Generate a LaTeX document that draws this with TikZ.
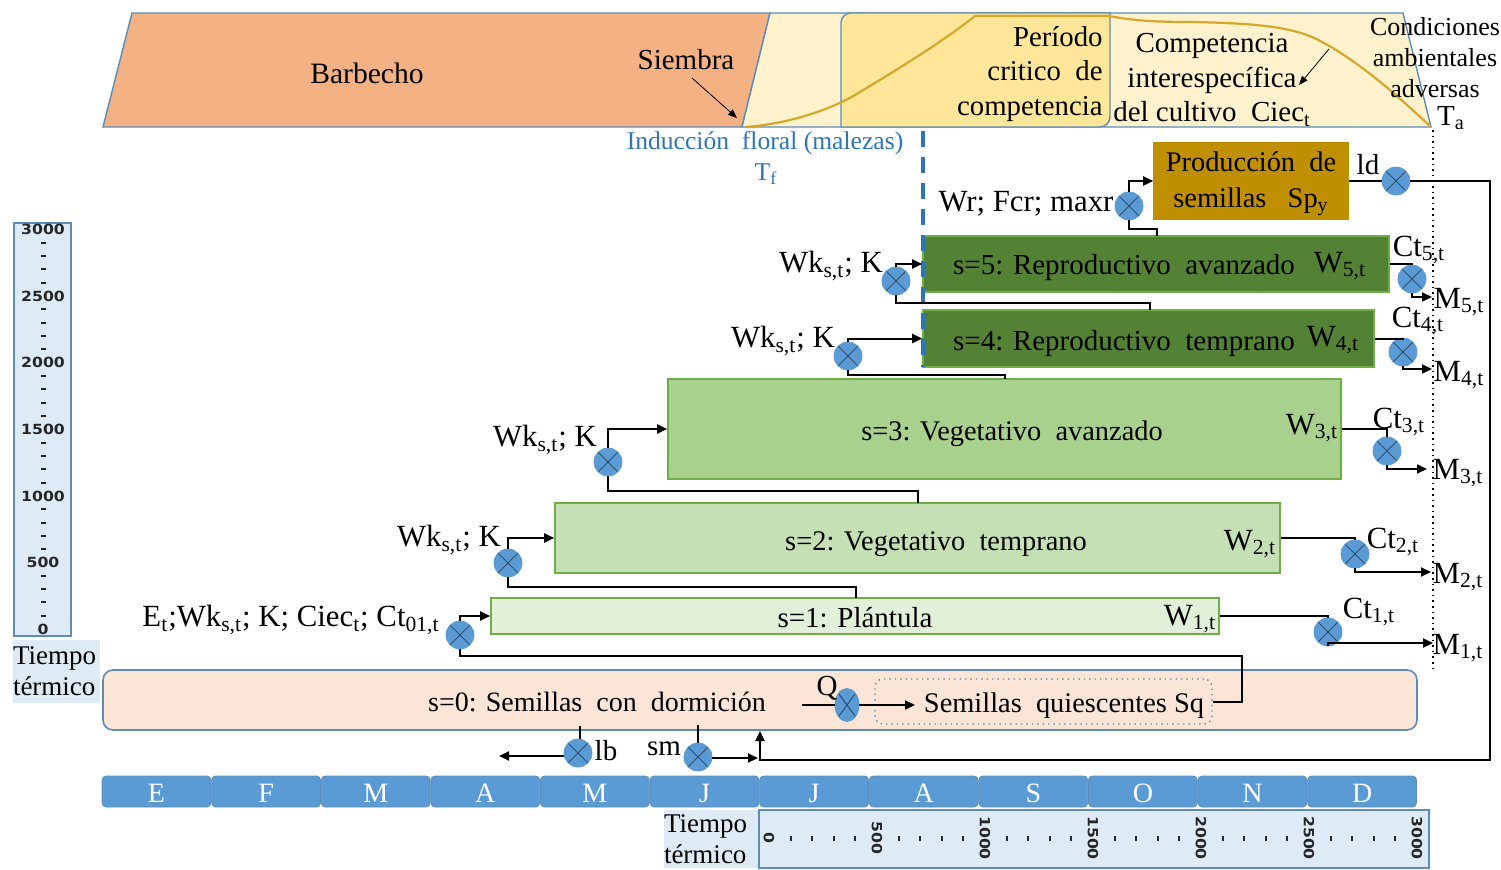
\documentclass[tikz,border=0pt]{standalone}
\usepackage{fontspec}
\setmainfont{Liberation Serif}
\newfontfamily\scalefont[FakeStretch=1.12]{DejaVu Sans}
\usetikzlibrary{arrows.meta,shapes.geometric}
\definecolor{edgeblue}{HTML}{5B8DB8}
\definecolor{monthblue}{HTML}{5B9BD5}
\definecolor{scalefill}{HTML}{DEEAF6}
\definecolor{linkblue}{HTML}{2E75B6}
\definecolor{goldline}{HTML}{D4A82A}
\definecolor{barbfill}{HTML}{F4B183}
\definecolor{perfill}{HTML}{FFF2CC}
\definecolor{critfill}{HTML}{FFE699}
\definecolor{prodfill}{HTML}{BF8F00}
\definecolor{greenedge}{HTML}{70AD47}
\definecolor{darkgreen}{HTML}{548235}
\definecolor{midgreen}{HTML}{A9D18E}
\definecolor{lightgreen}{HTML}{C5E0B4}
\definecolor{palegreen}{HTML}{E2F0D9}
\definecolor{seedfill}{HTML}{FBE5D6}
\newcommand{\sbs}[1]{\textsubscript{#1}}
\tikzset{
  x=0.5pt,y=-0.5pt,
  lbl/.style={inner sep=0pt,align=center,font=\fontsize{14.5}{16}\selectfont,text=black},
  mathl/.style={lbl,font=\fontsize{15.4}{17}\selectfont},
  boxn/.style={draw=#1,line width=0.8pt,inner sep=0pt},
  valvec/.style={circle,minimum size=14pt,inner sep=0pt,fill=monthblue,draw=monthblue,
    path picture={\draw[line width=0.5pt,draw=black!50!monthblue]
      (path picture bounding box.north west)--(path picture bounding box.south east)
      (path picture bounding box.north east)--(path picture bounding box.south west);}},
  valvee/.style={ellipse,minimum width=12pt,minimum height=16.5pt,inner sep=0pt,fill=monthblue,draw=monthblue,
    path picture={\draw[line width=0.5pt,draw=black!50!monthblue]
      (path picture bounding box.north west)--(path picture bounding box.south east)
      (path picture bounding box.north east)--(path picture bounding box.south west);}},
  link/.style={draw=black,line width=1pt},
  linka/.style={link,-{Triangle[length=5pt,width=4.5pt]}},
  thin arrow/.style={draw=black,line width=0.4pt,-{Triangle[length=4.5pt,width=3.5pt]}},
  month/.style={draw=edgeblue,fill=monthblue,rounded corners=2pt,minimum width=54.4pt,minimum height=15.5pt,inner sep=0pt,text=white,text height=11.2pt,text depth=0pt,font=\fontsize{14}{16}\selectfont},
  tick/.style={inner sep=0pt,font=\scalefont\bfseries\fontsize{7}{8}\selectfont,text=black!85},
  scalebox/.style={draw=edgeblue,fill=scalefill,line width=0.9pt,inner sep=0pt},
  ttbox/.style={fill=scalefill,inner sep=0pt,align=left,font=\fontsize{13.5}{15.3}\selectfont},
}
\begin{document}
\begin{tikzpicture}
\useasboundingbox (0,0) rectangle (1501,869);
% top band
\draw[draw=edgeblue,fill=barbfill,line width=0.7pt]
  (103,127)--(132,13)--(770,13)--(742,127)--cycle;
\draw[draw=edgeblue,fill=perfill,line width=0.7pt]
  (742,127)--(770,13)--(1403,13)--(1431,127)--cycle;
\draw[draw=edgeblue,fill=critfill,line width=0.7pt]
  (841,127){[rounded corners=5pt]--(841,13)}--(1110,13){[rounded corners=5pt]--(1110,127)}--cycle;
\draw[goldline,line width=1.1pt] (745,127) .. controls (790,124) and (835,108) .. (860,92)
  .. controls (900,68) and (945,40) .. (975,16) -- (1109,16)
  .. controls (1130,20) and (1150,22) .. (1190,22)
  .. controls (1250,23) and (1295,26) .. (1322,42)
  .. controls (1360,62) and (1400,98) .. (1431,127);
% boxes
\node[boxn=prodfill,fill=prodfill,minimum width=97pt,minimum height=38pt] (prod) at (1251,181) {};
\node[boxn=greenedge,fill=darkgreen,minimum width=233pt,minimum height=28pt] (s5) at (1156,264) {};
\node[boxn=greenedge,fill=darkgreen,minimum width=225.5pt,minimum height=28.5pt] (s4) at (1148.5,338.5) {};
\node[boxn=greenedge,fill=midgreen,minimum width=336.5pt,minimum height=50pt] (s3) at (1004.5,429) {};
\node[boxn=greenedge,fill=lightgreen,minimum width=362.5pt,minimum height=35pt] (s2) at (917.5,538) {};
\node[boxn=greenedge,fill=palegreen,minimum width=364pt,minimum height=18pt] (s1) at (855,616) {};
\node[boxn=edgeblue,fill=seedfill,rounded corners=5pt,minimum width=657pt,minimum height=30pt] (s0) at (760,700) {};
\node[draw=edgeblue,dotted,line width=0.7pt,rounded corners=4pt,inner sep=0pt,minimum width=168.5pt,minimum height=22.5pt] (sq) at (1043.5,701.5) {};
% guide lines
\coordinate (inda) at (923,131);
\coordinate (indb) at (923,367);
\draw[linkblue,line width=1.8pt,dash pattern=on 8pt off 5pt] (inda)--(indb);
\coordinate (amba) at (1433,130);
\coordinate (ambb) at (1433,668);
\draw[black,dotted,line width=0.8pt] (amba)--(ambb);
% valves
\node[valvec] (vw) at (1129,206) {};
\node[valvec] (vld) at (1396,181) {};
\node[valvec] (v5) at (896,281) {};
\node[valvec] (v4) at (848,356) {};
\node[valvec] (v3) at (608,462) {};
\node[valvec] (v2) at (508,563) {};
\node[valvec] (v1) at (460,635) {};
\node[valvec] (c5) at (1412,279) {};
\node[valvec] (c4) at (1403,352) {};
\node[valvec] (c3) at (1387,451) {};
\node[valvec] (c2) at (1355,554) {};
\node[valvec] (c1) at (1328,632) {};
\node[valvee] (vq) at (847,705) {};
\node[valvec] (vlb) at (578,753) {};
\node[valvec] (vsm) at (698,757) {};
% attach points
\coordinate (s5t) at (1157,236);
\coordinate (s4t) at (1150,310);
\coordinate (s3t) at (1005,379);
\coordinate (s2t) at (918,503);
\coordinate (s1t) at (856,598);
\coordinate (m5) at (1432,297);
\coordinate (m4) at (1432,369);
\coordinate (m3) at (1427,469);
\coordinate (m2) at (1431,572);
\coordinate (m1) at (1433,643);
\coordinate (ret) at (1490,760);
\coordinate (s0in) at (760,731);
\coordinate (qa) at (802,705);
\coordinate (qb) at (915,705);
\coordinate (lbin) at (580,726);
\coordinate (lbout) at (499,756);
\coordinate (smin) at (698,725);
\coordinate (smout) at (758,758);
\coordinate (v1r) at (1242,656);
% connectors
\draw[linka] (vw.north) |- (prod.west);
\draw[link] (vw.south) -- ++(0,9) -| (s5t);
\draw[link] (prod.east) -- (vld.west);
\draw[linka] (vld.east) -| (ret) -| (s0in);
\draw[linka] (v5.north) |- (s5.west);
\draw[link] (v5.south) -- ++(0,8) -| (s4t);
\draw[linka] (v4.north) |- (s4.west);
\draw[link] (v4.south) -- ++(0,5) -| (s3t);
\draw[linka] (v3.north) |- (s3.west);
\draw[link] (v3.south) -- ++(0,15) -| (s2t);
\draw[linka] (v2.north) |- (s2.west);
\draw[link] (v2.south) -- ++(0,10) -| (s1t);
\draw[linka] (v1.north) |- (s1.west);
\draw[link] (v1.south) |- (v1r) |- (sq.east);
\draw[link] (s5.east) -| (c5.north);
\draw[linka] (c5.south) |- (m5);
\draw[link] (s4.east) -| (c4.north);
\draw[linka] (c4.south) |- (m4);
\draw[link] (s3.east) -| (c3.north);
\draw[linka] (c3.south) |- (m3);
\draw[link] (s2.east) -| (c2.north);
\draw[linka] (c2.south) |- (m2);
\draw[link] (s1.east) -| (c1.north);
\draw[linka] (c1.south) |- (m1);
\draw[link] (qa) -- (vq.west);
\draw[linka] (vq.east) -- (qb);
\draw[link] (lbin) -- (vlb.north -| lbin);
\draw[linka] (vlb.west |- lbout) -- (lbout);
\draw[link] (smin) -- (vsm.north);
\draw[linka] (vsm.east |- smout) -- (smout);
% thin arrows
\coordinate (siema) at (692,78);
\coordinate (siemb) at (737,118);
\draw[thin arrow] (siema)--(siemb);
\coordinate (coma) at (1329,49);
\coordinate (comb) at (1299,85);
\draw[thin arrow] (coma)--(comb);
% texts top
\node[lbl,font=\fontsize{14.8}{16}\selectfont] (tbar) at (367,73) {Barbecho};
\node[lbl] (tsie) at (686,60) {Siembra};
\node[lbl,align=right,anchor=east,font=\fontsize{14.4}{17.3}\selectfont] (tper) at (1103,74) {Período\\critico\ \ de\\competencia};
\node[lbl,font=\fontsize{14.5}{17.3}\selectfont] (tcom) at (1212,80) {Competencia\\interespecífica\\del cultivo\ \ Ciec\sbs{t}};
\node[lbl,font=\fontsize{13}{15.5}\selectfont] (tamb) at (1435,58) {Condiciones\\ambientales\\adversas};
\node[lbl] (tta) at (1451,118) {T\sbs{a}};
\node[lbl,text=linkblue,font=\fontsize{12.8}{15}\selectfont] (tind) at (765,143) {Inducción\ \ floral (malezas)};
\node[lbl,text=linkblue,font=\fontsize{12.8}{15}\selectfont] (ttf) at (766,174) {T\sbs{f}};
\node[mathl] (twr) at (1026,204) {Wr; Fcr; maxr};
\node[lbl,font=\fontsize{14.2}{18}\selectfont] (tpro) at (1251,184) {Producción\ \ de\\semillas\ \ \ Sp\sbs{y}};
\node[lbl] (tld) at (1368,165) {ld};
% stage texts
\node[lbl] (ts5) at (1124,268) {s=5: Reproductivo\ \ avanzado};
\node[mathl] (tw5) at (1340,266) {W\sbs{5,t}};
\node[lbl] (ts4) at (1124,344) {s=4: Reproductivo\ \ temprano};
\node[mathl] (tw4) at (1333,340) {W\sbs{4,t}};
\node[lbl,font=\fontsize{14.2}{16}\selectfont] (ts3) at (1012,434) {s=3: Vegetativo\ \ avanzado};
\node[mathl] (tw3) at (1312,428) {W\sbs{3,t}};
\node[lbl,font=\fontsize{14.2}{16}\selectfont] (ts2) at (936,544) {s=2: Vegetativo\ \ temprano};
\node[mathl] (tw2) at (1250,544) {W\sbs{2,t}};
\node[lbl] (ts1) at (855,618) {s=1: Plántula};
\node[mathl] (tw1) at (1190,619) {W\sbs{1,t}};
\node[lbl,font=\fontsize{14}{16}\selectfont] (ts0) at (597,702) {s=0: Semillas\ \ con\ \ dormición};
\node[lbl] (tq) at (827,688) {Q};
\node[lbl,font=\fontsize{14.2}{16}\selectfont] (tsq) at (1064,706) {Semillas\ \ quiescentes Sq};
\node[lbl] (tlb) at (606,751) {lb};
\node[lbl] (tsm) at (664,749) {sm};
% rate labels
\node[mathl] (k5) at (831,266) {Wk\sbs{s,t}; K};
\node[mathl] (k4) at (783,341) {Wk\sbs{s,t}; K};
\node[mathl] (k3) at (545,440) {Wk\sbs{s,t}; K};
\node[mathl] (k2) at (449,540) {Wk\sbs{s,t}; K};
\node[mathl] (k1) at (291,620) {E\sbs{t};Wk\sbs{s,t}; K; Ciec\sbs{t}; Ct\sbs{01,t}};
\node[mathl] (ct5) at (1419,250) {Ct\sbs{5,t}};
\node[mathl] (ct4) at (1418,321) {Ct\sbs{4,t}};
\node[mathl] (ct3) at (1399,422) {Ct\sbs{3,t}};
\node[mathl] (ct2) at (1393,542) {Ct\sbs{2,t}};
\node[mathl] (ct1) at (1369,612) {Ct\sbs{1,t}};
\node[mathl] (mm5) at (1459,302) {M\sbs{5,t}};
\node[mathl] (mm4) at (1459,375) {M\sbs{4,t}};
\node[mathl] (mm3) at (1458,473) {M\sbs{3,t}};
\node[mathl] (mm2) at (1458,577) {M\sbs{2,t}};
\node[mathl] (mm1) at (1458,648) {M\sbs{1,t}};
% months
\foreach \lab [count=\i from 0] in {E,F,M,A,M,J,J,A,S,O,N,D}{
  \node[month] (mon\i) at ({156.5+109.6*\i},791.5) {\lab};
}
% left scale
\node[scalebox,minimum width=28.5pt,minimum height=206.5pt] (lscale) at (42.5,429.5) {};
\foreach \v [count=\i from 0] in {3000,2500,2000,1500,1000,500,0}{
  \node[tick] (ly\i) at (43,{229.5+66.6*\i}) {\v};
}
\foreach \i in {0,...,5}{\foreach \j in {1,...,4}{
  \fill[black!85] ({43-2.5},{229.5+66.6*\i+13.3*\j-1}) rectangle ({43+2.5},{229.5+66.6*\i+13.3*\j+1});
}}
\node[ttbox,minimum width=43.5pt,minimum height=31.5pt,text width=43.5pt] (ltt) at (56.5,671) {Tiempo\\térmico};
% bottom scale
\node[scalebox,minimum width=335pt,minimum height=29pt] (bscale) at (1094,839) {};
\node[ttbox,minimum width=47pt,minimum height=29pt,text width=47pt] (btt) at (711,839) {Tiempo\\térmico};
\foreach \v [count=\i from 0] in {0,500,1000,1500,2000,2500,3000}{
  \node[tick,rotate=-90] (bx\i) at ({769+108*\i},838) {\v};
}
\foreach \i in {0,...,5}{\foreach \j in {1,...,4}{
  \fill[black!85] ({769+108*\i+21.6*\j-1},{835.5}) rectangle ({769+108*\i+21.6*\j+1},{840.5});
}}
\end{tikzpicture}
\end{document}
